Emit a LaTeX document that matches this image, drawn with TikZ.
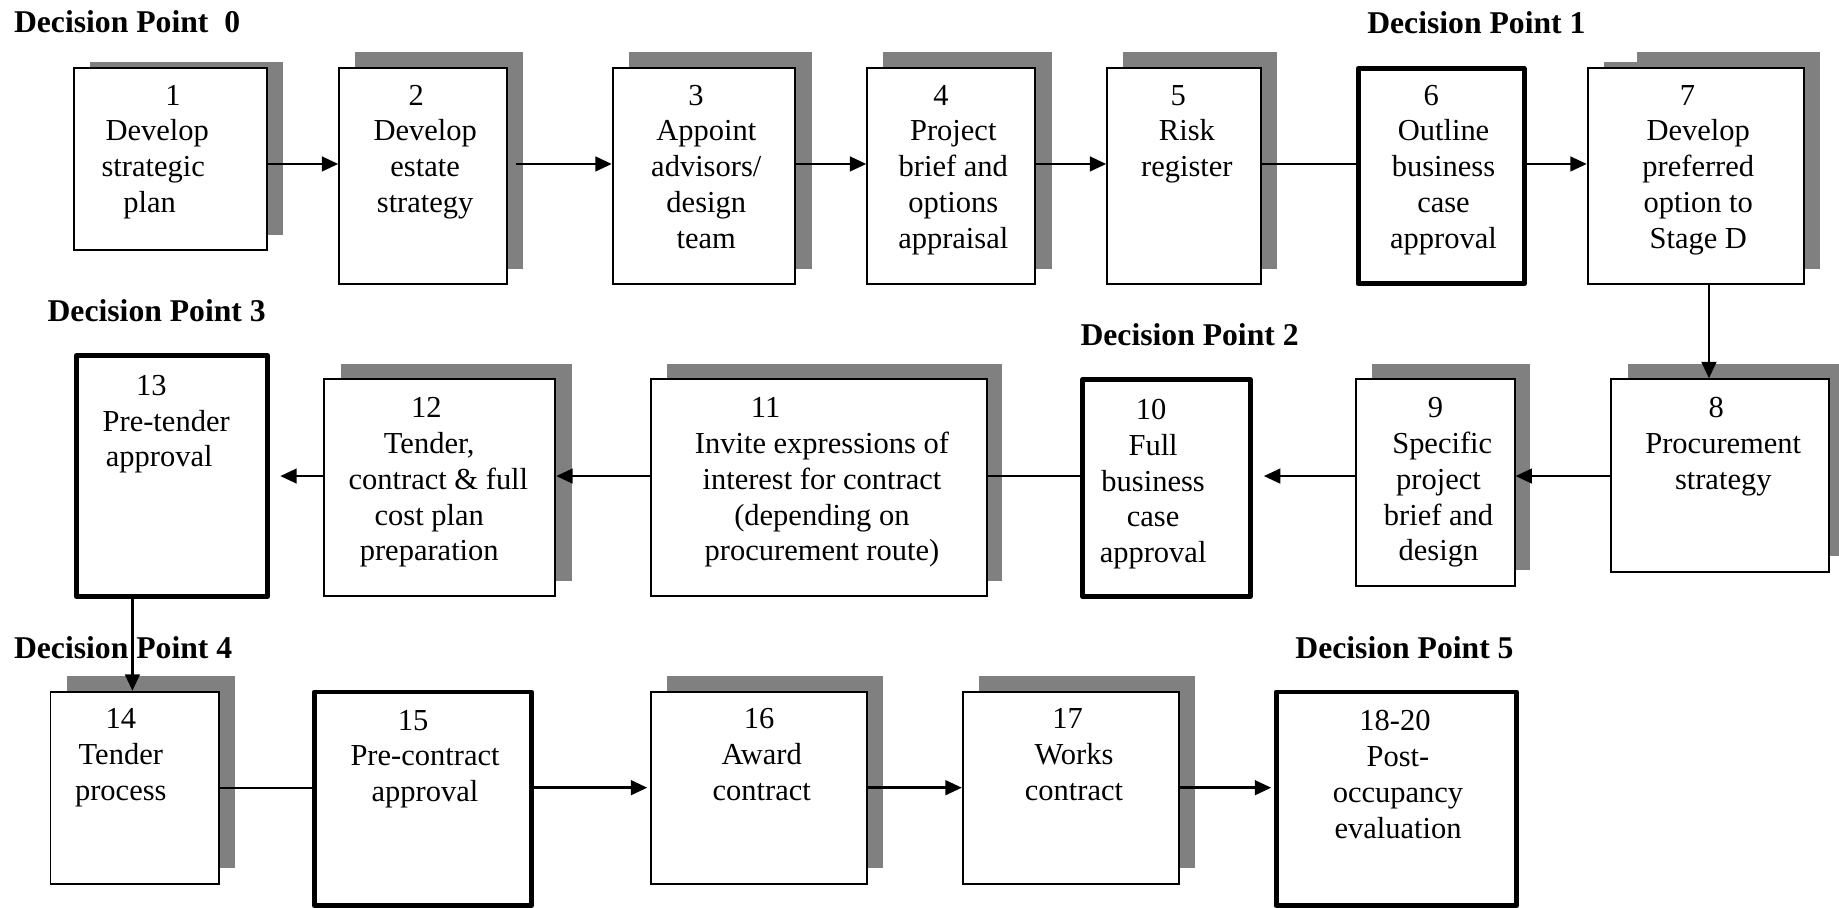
\documentclass[tikz,border=0pt]{standalone}
\usepackage{fontspec}
\setmainfont{Liberation Serif}
\usetikzlibrary{arrows.meta,fit}
\definecolor{shadowgray}{RGB}{128,128,128}
\newcommand\shiftln[2]{\makebox[0pt][c]{\hspace*{#1}\hspace*{#1}#2}}
\newcommand\topstrut{\rule{0pt}{20pt}}
\begin{document}
\begin{tikzpicture}[x=1pt,y=-1pt,
  shadowfill/.style={fill=shadowgray},
  stepbox/.style={draw, fill=white, line width=1.6pt, inner sep=0pt},
  gatebox/.style={draw, fill=white, line width=4.2pt, line join=round, inner sep=0pt},
  boxtext/.style={anchor=north, align=center, inner sep=0pt, font=\fontsize{26pt}{30.5pt}\selectfont},
  dplabel/.style={anchor=base west, inner sep=0pt, font=\fontsize{27pt}{32pt}\selectfont\bfseries},
  arr/.style={line width=2.1pt, -{Triangle[length=14pt,width=12.5pt]}},
  link/.style={line width=1.7pt},
]
\useasboundingbox (0,0) rectangle (1568,774);
\fill[white] (0,0) rectangle (1568,774);

% shadows
\fill[shadowfill] (76.8,52.9) rectangle (241.3,200.4);
\fill[shadowfill] (302.6,44.3) rectangle (445.9,229.1);
\fill[shadowfill] (536.2,44.3) rectangle (692.3,229.1);
\fill[shadowfill] (752.9,44.3) rectangle (896.8,229.1);
\fill[shadowfill] (957.5,44.3) rectangle (1088.4,229.1);
\fill[shadowfill] (1395.8,44.3) rectangle (1551.5,229.1);
\fill[shadowfill] (1367.2,52.9) rectangle (1395.8,229.1);
\fill[shadowfill] (1388.4,310.4) rectangle (1568,474.3);
\fill[shadowfill] (1170,310.4) rectangle (1304.8,486.3);
\fill[shadowfill] (568.9,310.4) rectangle (854.7,495.1);
\fill[shadowfill] (290.5,310.4) rectangle (487.7,495.1);
\fill[shadowfill] (57.3,576.4) rectangle (200.2,740.4);
\fill[shadowfill] (568.9,576.4) rectangle (752.9,740.4);
\fill[shadowfill] (835.1,576.4) rectangle (1018.8,740.4);

% boxes
\node[stepbox, fit={(63.4,57.7) (227.8,213.2)}] (b1) {};
\node[stepbox, fit={(289.2,57.7) (432.4,242.4)}] (b2) {};
\node[stepbox, fit={(522.4,57.7) (678.1,242.4)}] (b3) {};
\node[stepbox, fit={(739.4,57.7) (882.7,242.4)}] (b4) {};
\node[stepbox, fit={(944.0,57.7) (1075.3,242.4)}] (b5) {};
\node[gatebox, fit={(1158,58.5) (1299.5,242)}] (b6) {};
\node[stepbox, fit={(1353.7,57.7) (1538.4,242.4)}] (b7) {};
\node[stepbox, fit={(1373.9,323.4) (1559.3,487.4)}] (b8) {};
\node[stepbox, fit={(1156.5,323.4) (1291.4,499.7)}] (b9) {};
\node[gatebox, fit={(923,323.7) (1066,508.5)}] (b10) {};
\node[stepbox, fit={(554.7,323.4) (841.9,508.2)}] (b11) {};
\node[stepbox, fit={(276.4,323.4) (473.5,508.2)}] (b12) {};
\node[gatebox, fit={(65.4,303) (227.9,508.5)}] (b13) {};
\node[stepbox, fit={(43.1,589.8) (186.4,754)}] (b14) {};
\node[gatebox, fit={(268,590) (453,772)}] (b15) {};
\node[stepbox, fit={(554.7,589.8) (739.4,754)}] (b16) {};
\node[stepbox, fit={(820.9,589.8) (1005.3,754)}] (b17) {};
\node[gatebox, fit={(1088,590) (1293,772)}] (b18) {};

% box texts
\node[boxtext] (t1) at (130.6,69.5) {\topstrut\shiftln{17pt}{1}\\\shiftln{3.4pt}{Develop}\\strategic\\\shiftln{-3pt}{plan}};
\node[boxtext] (t2) at (362.5,69.5) {\topstrut\shiftln{-7.5pt}{2}\\Develop\\estate\\strategy};
\node[boxtext] (t3) at (602.2,69.5) {\topstrut\shiftln{-8.7pt}{3}\\Appoint\\advisors/\\design\\team};
\node[boxtext] (t4) at (812.8,69.5) {\topstrut\shiftln{-10.5pt}{4}\\Project\\brief and\\options\\appraisal};
\node[boxtext] (t5) at (1012,69.5) {\topstrut\shiftln{-7.4pt}{5}\\Risk\\register};
\node[boxtext] (t6) at (1230.8,69.5) {\topstrut\shiftln{-10.4pt}{6}\\Outline\\business\\case\\approval};
\node[boxtext] (t7) at (1448,69.5) {\topstrut\shiftln{-9.2pt}{7}\\Develop\\preferred\\option to\\Stage D};
\node[boxtext] (t8) at (1469.3,336.1) {\topstrut\shiftln{-6pt}{8}\\Procurement\\strategy};
\node[boxtext] (t9) at (1226.5,336.1) {\topstrut\shiftln{-2.6pt}{9}\\\shiftln{3.2pt}{Specific}\\project\\brief and\\design};
\node[boxtext] (t10) at (983.2,337.5) {\topstrut\shiftln{-1.8pt}{10}\\Full\\business\\case\\approval};
\node[boxtext] (t11) at (700.8,336.1) {\topstrut\shiftln{-48pt}{11}\\Invite expressions of\\interest for contract\\(depending on\\procurement route)};
\node[boxtext] (t12) at (366,336.1) {\topstrut\shiftln{-2.5pt}{12}\\Tender,\\\shiftln{7.8pt}{contract \& full}\\cost plan\\preparation};
\node[boxtext] (t13) at (138.7,316.8) {\topstrut\shiftln{-9.6pt}{13}\\\shiftln{3pt}{Pre-tender}\\\shiftln{-2.9pt}{approval}};
\node[boxtext] (t14) at (103,601) {\topstrut 14\\Tender\\process};
\node[boxtext] (t15) at (362.4,602.4) {\topstrut\shiftln{-10.2pt}{15}\\Pre-contract\\approval};
\node[boxtext] (t16) at (649.5,601) {\topstrut\shiftln{-2.2pt}{16}\\Award\\contract};
\node[boxtext] (t17) at (915.7,601) {\topstrut\shiftln{-5.4pt}{17}\\Works\\contract};
\node[boxtext] (t18) at (1192,603) {\topstrut\shiftln{-2.6pt}{18-20}\\Post-\\occupancy\\evaluation};

% decision point labels
\node[dplabel] (dp0) at (11.8,28) {Decision Point~~0};
\node[dplabel] (dp1) at (1165.6,28.4) {Decision Point 1};
\node[dplabel] (dp2) at (921.1,294.2) {Decision Point 2};
\node[dplabel] (dp3) at (40.4,274.3) {Decision Point 3};
\node[dplabel] (dp4) at (11.8,561.3) {Decision Point 4};
\node[dplabel] (dp5) at (1104.3,561.3) {Decision Point 5};

% connectors
\coordinate (r1) at (0,139.8);
\coordinate (r2) at (0,405.9);
\coordinate (r3) at (0,671.6);
\coordinate (c78) at (1457.1,0);
\coordinate (c1314) at (112.9,0);
\draw[arr] (b1.east |- r1) -- (b2.west |- r1);
\draw[arr] ([xshift=7pt]b2.east |- r1) -- (b3.west |- r1);
\draw[arr] (b3.east |- r1) -- (b4.west |- r1);
\draw[arr] (b4.east |- r1) -- (b5.west |- r1);
\draw[link] (b5.east |- r1) -- (b6.west |- r1);
\draw[arr] (b6.east |- r1) -- (b7.west |- r1);
\draw[arr] (b7.south -| c78) -- (b8.north -| c78);
\draw[arr] (b8.west |- r2) -- (b9.east |- r2);
\draw[arr, shorten >=9.5pt] (b9.west |- r2) -- (b10.east |- r2);
\draw[link] (b10.west |- r2) -- (b11.east |- r2);
\draw[arr] (b11.west |- r2) -- (b12.east |- r2);
\draw[arr, shorten >=9pt] (b12.west |- r2) -- (b13.east |- r2);
\draw[arr] (b13.south -| c1314) -- (b14.north -| c1314);
\draw[link] (b14.east |- r3) -- (b15.west |- r3);
\draw[arr, shorten >=2pt] (b15.east |- r3) -- (b16.west |- r3);
\draw[arr] (b16.east |- r3) -- (b17.west |- r3);
\draw[arr, shorten >=2pt] (b17.east |- r3) -- (b18.west |- r3);
\end{tikzpicture}
\end{document}
